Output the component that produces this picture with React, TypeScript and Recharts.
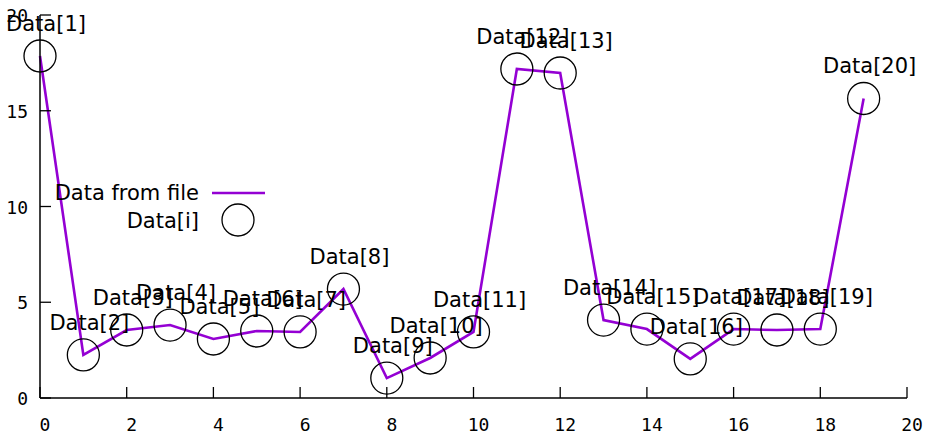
import { ComposedChart, Line, Scatter, XAxis, YAxis } from "recharts";

const xValues = [0, 1, 2, 3, 4, 5, 6, 7, 8, 9, 10, 11, 12, 13, 14, 15, 16, 17, 18, 19];
const yValues = [
  17.86, 2.25, 3.55, 3.81, 3.08, 3.5, 3.45, 5.69, 1.04, 2.09,
  3.45, 17.18, 16.97, 4.07, 3.6, 2.04, 3.6, 3.55, 3.6, 15.64,
];
const pointLabels = xValues.map((_, i) => `Data[${i + 1}]`);
const xTicks = [0, 2, 4, 6, 8, 10, 12, 14, 16, 18, 20];
const yTicks = [0, 5, 10, 15, 20];
const seriesNames = ["Data from file", "Data[i]"];

const LINE_COLOR = "#9400d3";
const LABEL_FONT = "'DejaVu Sans', sans-serif";
const TICK_FONT = "'DejaVu Sans Mono', monospace";

const data = xValues.map((x, i) => ({ x, y: yValues[i], label: pointLabels[i] }));

function XTick(props: any) {
  const { x, y, payload } = props;
  return (
    <g>
      <line x1={x} x2={x} y1={y} y2={y - 11} stroke="#000" strokeWidth={1.3} />
      <text x={x + 5} y={y + 33} textAnchor="middle" fontFamily={TICK_FONT} fontSize={18} fill="#000">
        {payload.value}
      </text>
    </g>
  );
}

function YTick(props: any) {
  const { x, y, payload } = props;
  return (
    <g>
      <line x1={x} x2={x + 11} y1={y} y2={y} stroke="#000" strokeWidth={1.3} />
      <text x={x - 12} y={y + 7} textAnchor="end" fontFamily={TICK_FONT} fontSize={18} fill="#000">
        {payload.value}
      </text>
    </g>
  );
}

function PointShape(props: any) {
  const { cx, cy, payload } = props;
  return (
    <g>
      <circle cx={cx} cy={cy} r={16} fill="none" stroke="#000" strokeWidth={1.3} />
      <text x={cx + 6} y={cy - 25} textAnchor="middle" fontFamily={LABEL_FONT} fontSize={21} fill="#000">
        {payload.label}
      </text>
    </g>
  );
}

// key drawn as an overlay so it doesn't eat into the plot area
function KeyBox() {
  return (
    <svg width={240} height={60} style={{ position: "absolute", left: 40, top: 178 }}>
      <text x={159} y={22} textAnchor="end" fontFamily={LABEL_FONT} fontSize={21} fill="#000">
        {seriesNames[0]}
      </text>
      <line x1={172} x2={225} y1={15} y2={15} stroke={LINE_COLOR} strokeWidth={2.6} />
      <text x={159} y={50} textAnchor="end" fontFamily={LABEL_FONT} fontSize={21} fill="#000">
        {seriesNames[1]}
      </text>
      <circle cx={198} cy={42} r={16} fill="none" stroke="#000" strokeWidth={1.3} />
    </svg>
  );
}

export default function App() {
  return (
    <div style={{ position: "relative", width: 925, height: 436, background: "#fff" }}>
      <style>{"body{margin:0}"}</style>
      <ComposedChart width={925} height={436} data={data} margin={{ top: 15, right: 18, left: 0, bottom: 0 }}>
        <XAxis
          dataKey="x"
          type="number"
          domain={[0, 20]}
          ticks={xTicks}
          height={38}
          tickSize={0}
          tickMargin={0}
          tickLine={false}
          axisLine={{ stroke: "#000", strokeWidth: 1.5 }}
          tick={XTick}
          interval={0}
        />
        <YAxis
          type="number"
          domain={[0, 20]}
          ticks={yTicks}
          width={40}
          tickSize={0}
          tickMargin={0}
          tickLine={false}
          axisLine={{ stroke: "#000", strokeWidth: 1.5 }}
          tick={YTick}
          interval={0}
        />
        <Line
          dataKey="y"
          stroke={LINE_COLOR}
          strokeWidth={2.6}
          dot={false}
          activeDot={false}
          isAnimationActive={false}
          name={seriesNames[0]}
        />
        <Scatter dataKey="y" shape={PointShape} isAnimationActive={false} name={seriesNames[1]} />
      </ComposedChart>
      <KeyBox />
    </div>
  );
}
